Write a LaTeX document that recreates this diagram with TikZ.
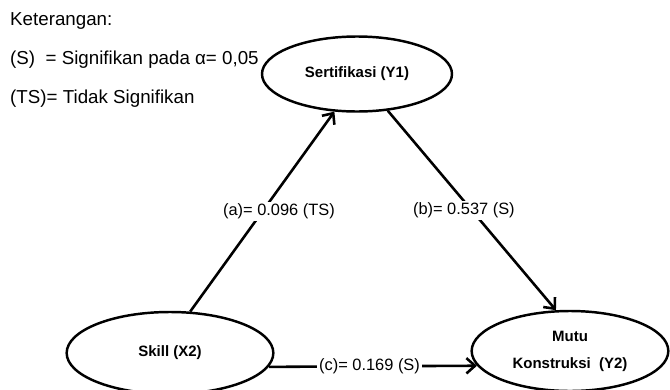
\documentclass[tikz,border=0pt]{standalone}
\usepackage{fontspec}
\setmainfont{Liberation Sans}
\usetikzlibrary{arrows.meta,shapes.geometric}
\tikzset{legend/.style={anchor=west,inner sep=0pt,font=\fontsize{16}{19}\selectfont}}
\tikzset{state/.style={ellipse,draw,line width=2.1pt,align=center,inner sep=0pt,font=\bfseries\fontsize{12.8}{23}\selectfont}}
\tikzset{path label/.style={fill=white,inner sep=1.5pt,font=\fontsize{14}{17}\selectfont}}
\tikzset{pathvec/.style={-{Straight Barb[length=2.6mm,width=4.6mm,line width=2.2pt]},line width=2.2pt}}

\begin{document}
\begin{tikzpicture}[x=0.03cm,y=-0.03cm]
    \useasboundingbox (0,0) rectangle (670,389);
    % keterangan
    \node [legend] (ket) at (10,21) {Keterangan:};
    \node [legend] (ket s) at (10,60) {(S)\ \ = Signifikan pada α= 0,05};
    \node [legend] (ket ts) at (10,99) {(TS)= Tidak Signifikan};
    % variabel
    \node [state,minimum width=5.7cm,minimum height=2.25cm] (sert) at (357,74) {Sertifikasi (Y1)};
    \node [state,minimum width=6.2cm,minimum height=2.46cm] (skill) at (170,353) {Skill (X2)};
    \node [state,minimum width=5.9cm,minimum height=2.4cm] (mutu) at (570,351) {Mutu\\Konstruksi\ \ (Y2)};
    % jalur
    \draw [pathvec] (skill.64) -- (sert.239) node [path label,midway,xshift=0.5cm] {(a)= 0.096 (TS)};
    \draw [pathvec] (sert.310) -- (mutu.109) node [path label,midway,xshift=-0.24cm] {(b)= 0.537 (S)};
    \draw [pathvec] (skill.352) -- (mutu.189) node [path label,midway,xshift=-0.1cm] {(c)= 0.169 (S)};
\end{tikzpicture}
\end{document}
